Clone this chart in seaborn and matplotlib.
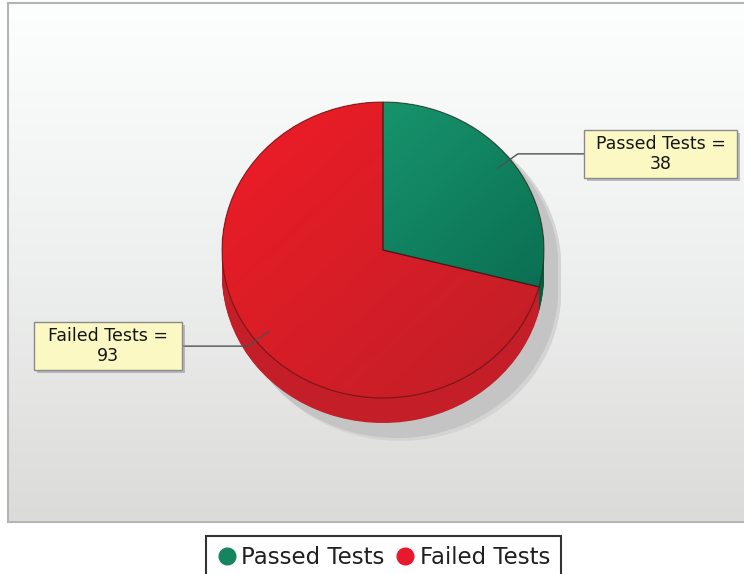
import numpy as np
import matplotlib
matplotlib.use('Agg')
import matplotlib.pyplot as plt
import matplotlib.patheffects as pe
from matplotlib.colors import LinearSegmentedColormap
from matplotlib.lines import Line2D
from matplotlib.patches import Rectangle
import seaborn as sns

# ── Data ─────────────────────────────────────────────────────────────────────
labels = ['Passed Tests', 'Failed Tests']
counts = [38, 93]

# ── Colours ──────────────────────────────────────────────────────────────────
TOP_LIGHT = ['#1ca477', '#f01c26']
TOP_DARK = ['#07634a', '#be1f28']
SIDE = ['#0a5a3f', '#c41f28']
LEGEND_COLS = ['#15855f', '#e8192c']
SHADOW = '#c4c4c4'
SHADOW_SOFT = '#d4d4d4'

sns.set_theme(style='white')
plt.rcParams['font.family'] = ['DejaVu Sans']

fig = plt.figure(figsize=(7.44, 5.74), dpi=100)
ax = fig.add_axes([8 / 744, 52 / 574, 736 / 744, 519 / 574])

# pie geometry in pixels (unit radius -> RX, RY px)
RX, RY = 161, 148
CX, CY = 383, 250
x0, x1 = (8 - CX) / RX, (744 - CX) / RX
y0, y1 = (CY - 522) / RY, (CY - 3) / RY
depth = 25 / RY
sh_dx, sh_dy = 14 / RX, 15 / RY

# ── Background gradient ──────────────────────────────────────────────────────
bg = np.linspace(0, 1, 256).reshape(-1, 1)
bg_cmap = LinearSegmentedColormap.from_list('bg', ['#fdfefe', '#eef0ef', '#dbdbd9'])
ax.imshow(bg, cmap=bg_cmap, extent=(0, 1, 0, 1), transform=ax.transAxes,
          aspect='auto', zorder=0)

pie_kw = dict(startangle=90, counterclock=False, radius=1, frame=True)

# ── Shadow ───────────────────────────────────────────────────────────────────
for k in np.linspace(sh_dy, depth + sh_dy + 3 / RY, 20):
    ax.pie(counts, center=(sh_dx + 3 / RX, -k), colors=[SHADOW_SOFT] * 2,
           wedgeprops=dict(linewidth=0, zorder=1), **pie_kw)
for k in np.linspace(sh_dy, depth + sh_dy, 20):
    ax.pie(counts, center=(sh_dx, -k), colors=[SHADOW] * 2,
           wedgeprops=dict(linewidth=0, zorder=1), **pie_kw)

# ── Side (depth) ─────────────────────────────────────────────────────────────
for k in np.linspace(depth, 0, 26):
    ax.pie(counts, center=(0, -k), colors=SIDE,
           wedgeprops=dict(linewidth=0, zorder=1), **pie_kw)

# ── Top face with gradient ───────────────────────────────────────────────────
top, _ = ax.pie(counts, center=(0, 0), colors=TOP_LIGHT,
                wedgeprops=dict(linewidth=0, zorder=1), **pie_kw)
gx, gy = np.meshgrid(np.linspace(0, 1, 200), np.linspace(0, 1, 200))
grad = (gx + 1 - gy) / 2
for w, lo, hi in zip(top, TOP_LIGHT, TOP_DARK):
    cm = LinearSegmentedColormap.from_list('g', [lo, hi])
    im = ax.imshow(grad, cmap=cm, extent=(-1, 1, -1, 1), origin='lower',
                   aspect='auto', zorder=2)
    im.set_clip_path(w)
ax.pie(counts, center=(0, 0), colors=TOP_LIGHT,
       wedgeprops=dict(fill=False, linewidth=0.9, edgecolor=(0.2, 0.05, 0.05, 0.5), zorder=3),
       **pie_kw)

# ── Labels with leader lines ────────────────────────────────────────────────
box_px = [(584, 737), (34, 182)]  # left/right pixel edges of label boxes
BOX_H = 48 / RY
for w, lab, n, (bl, br) in zip(top, labels, counts, box_px):
    mid = np.deg2rad((w.theta1 + w.theta2) / 2)
    ax_, ay_ = 0.9 * np.cos(mid), 0.9 * np.sin(mid)
    ex, ey = 1.06 * np.cos(mid), 1.06 * np.sin(mid)
    left, right = (bl - CX) / RX, (br - CX) / RX
    edge = left if np.cos(mid) > 0 else right
    ax.plot([ax_, ex, edge], [ay_, ey, ey], color='#505050', lw=1, zorder=4)
    box = Rectangle((left, ey - BOX_H / 2), right - left, BOX_H, fc='#fbf8c4',
                    ec='#8a8a8a', lw=1, zorder=5)
    box.set_path_effects([
        pe.SimplePatchShadow(offset=(2, -2), shadow_rgbFace='#888888', alpha=0.5),
        pe.Normal()])
    ax.add_patch(box)
    ax.text((left + right) / 2, ey, f'{lab} =\n{n}', ha='center', va='center',
            fontsize=12.5, color='#151515', linespacing=1.1, zorder=6)

# ── Axes frame ───────────────────────────────────────────────────────────────
ax.set_xlim(x0, x1)
ax.set_ylim(y0, y1)
ax.set_aspect('auto')
ax.set_xticks([])
ax.set_yticks([])
for side in ['left', 'top', 'bottom']:
    ax.spines[side].set_color('#b4b4b4')
    ax.spines[side].set_linewidth(1.5)
ax.spines['right'].set_visible(False)

# ── Legend ───────────────────────────────────────────────────────────────────
handles = [Line2D([], [], marker='o', ls='', markersize=12,
                  markerfacecolor=c, markeredgecolor=c) for c in LEGEND_COLS]
leg = fig.legend(handles, labels, loc='upper center',
                 bbox_to_anchor=(383.5 / 744, 1 - 536 / 574), ncol=2,
                 frameon=True, fancybox=False, edgecolor='black', fontsize=16.5,
                 handletextpad=0.2, columnspacing=0.45, borderpad=0.45,
                 handlelength=0.9, borderaxespad=0)
leg.get_frame().set_linewidth(1.5)
for txt in leg.get_texts():
    txt.set_color('#202020')

fig.savefig('out.png', dpi=100)
